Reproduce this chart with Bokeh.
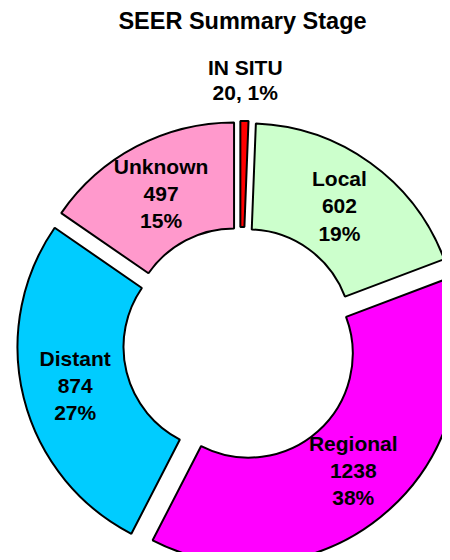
import numpy as np
from bokeh.plotting import figure
from bokeh.models import Range1d, ColumnDataSource
from bokeh.core.properties import value
from bokeh.embed import file_html
from bokeh.resources import INLINE

# ---- data ----
categories = ["IN SITU", "Local", "Regional", "Distant", "Unknown"]
counts = [20, 602, 1238, 874, 497]
colors = ["#FF0000", "#CCFFCC", "#FF00FF", "#00CCFF", "#FF99CC"]
title_text = "SEER Summary Stage"

# ---- geometry (reference pixel space, y up = 560 - y_ref) ----
W, H = 442, 552
CX, CY = 239.6, 560 - 343.4
R_IN, R_OUT = 104.0, 210.0
EXPLODE = 13.0
LABEL_R = 157.0

total = float(sum(counts))
cum = np.cumsum([0] + counts)
theta_s = 360.0 * cum[:-1] / total   # clockwise from top, degrees
theta_e = 360.0 * cum[1:] / total
mid = (theta_s + theta_e) / 2.0
mid_r = np.radians(mid)

xs = CX + EXPLODE * np.sin(mid_r)
ys = CY + EXPLODE * np.cos(mid_r)

src = ColumnDataSource(dict(
    x=xs, y=ys,
    start=np.radians(90.0 - theta_s),
    end=np.radians(90.0 - theta_e),
    color=colors,
))

p = figure(width=W, height=H, output_backend="svg", toolbar_location=None,
           x_range=Range1d(0, W), y_range=Range1d(560 - H, 560),
           x_axis_type=None, y_axis_type=None, min_border=0)
p.grid.visible = False
p.outline_line_color = None
p.background_fill_color = "white"

p.annular_wedge(x="x", y="y", inner_radius=R_IN, outer_radius=R_OUT,
                start_angle="start", end_angle="end", direction="clock",
                fill_color="color", line_color="black", line_width=2, source=src)

# labels
pcts = [int(round(100.0 * c / total)) for c in counts]
lx, ly, lt = [], [], []
ox, oy, ot = [], [], []
for i, (cat, c, pc) in enumerate(zip(categories, counts, pcts)):
    if cat == "IN SITU":
        r = R_OUT + 41
        ox.append(xs[i] + r * np.sin(mid_r[i]))
        oy.append(ys[i] + r * np.cos(mid_r[i]))
        ot.append(f"{cat}\n{c}, {pc}%")
    else:
        r = LABEL_R
        lx.append(xs[i] + r * np.sin(mid_r[i]))
        ly.append(ys[i] + r * np.cos(mid_r[i]))
        lt.append(f"{cat}\n{c}\n{pc}%")

p.text(x=lx, y=ly, text=lt, text_font=value("Liberation Sans"),
       text_font_style="bold", text_font_size="21px", text_align="center",
       text_baseline="middle", text_line_height=1.18, text_color="black")

p.text(x=ox, y=oy, text=ot, text_font=value("Liberation Sans"),
       text_font_style="bold", text_font_size="21px", text_align="center",
       text_baseline="middle", text_line_height=1.06, text_color="black")

p.text(x=[242], y=[560 - 20], text=[title_text], text_font=value("Liberation Sans"),
       text_font_style="bold", text_font_size="23.5px", text_align="center",
       text_baseline="middle", text_color="black")

open("out.html", "w").write(file_html(p, INLINE))
